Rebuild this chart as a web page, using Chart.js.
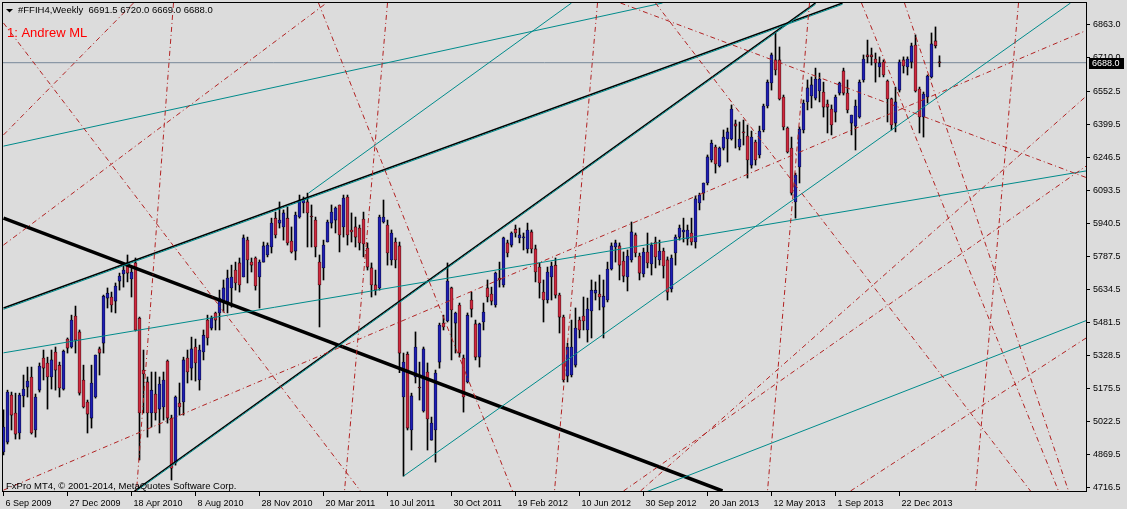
<!DOCTYPE html>
<html>
<head>
<meta charset="utf-8">
<script src="https://cdn.jsdelivr.net/npm/chart.js@4.4.1/dist/chart.umd.min.js"></script>
<style>
html, body { margin: 0; padding: 0; background: #dcdcdc; }
#myChart { display: block; }
</style>
</head>
<body>
<canvas id="myChart" width="1127" height="509"></canvas>
<script>
// weekly candles, #FFIH4 (one entry per week, first week = 6 Sep 2009)
let opens = [4882, 4928, 5146, 5063, 4970, 5142, 5183, 5230, 4984, 5169,
             5318, 5295, 5230, 5346, 5285, 5174, 5406, 5369, 5513, 5439,
             5216, 5114, 5039, 5137, 5360, 5387, 5596, 5601, 5582, 5675,
             5708, 5759, 5685, 5759, 5503, 5262, 5207, 5063, 5151, 5081,
             5091, 5304, 5039, 4831, 5109, 5114, 5318, 5271, 5369, 5216,
             5346, 5494, 5457, 5527, 5527, 5578, 5578, 5643, 5726, 5759,
             5694, 5865, 5763, 5782, 5694, 5763, 5796, 5833, 5967, 5944,
             5926, 5967, 5861, 5814, 5972, 6037, 6042, 5977, 5958, 5763,
             5736, 5856, 5944, 5958, 6028, 5926, 6065, 5912, 5926, 5921,
             5963, 5828, 5736, 5657, 5643, 5949, 5935, 5773, 5856, 5838,
             5137, 5336, 4984, 5230, 5183, 5072, 5253, 4937, 4984, 5299,
             5480, 5490, 5643, 5480, 5564, 5318, 5207, 5587, 5476, 5322,
             5485, 5643, 5615, 5564, 5689, 5657, 5852, 5842, 5916, 5875,
             5875, 5824, 5903, 5824, 5740, 5624, 5587, 5694, 5749, 5610,
             5508, 5234, 5239, 5285, 5494, 5513, 5448, 5536, 5619, 5615,
             5554, 5587, 5731, 5833, 5838, 5768, 5694, 5773, 5889, 5791,
             5708, 5810, 5754, 5856, 5773, 5814, 5773, 5638, 5805, 5879,
             5903, 5870, 5898, 5856, 6037, 6083, 6130, 6237, 6297, 6209,
             6292, 6334, 6334, 6404, 6297, 6367, 6348, 6213, 6320, 6260,
             6376, 6487, 6594, 6701, 6701, 6529, 6385, 6292, 6042, 6204,
             6376, 6506, 6534, 6524, 6557, 6552, 6496, 6473, 6459, 6547,
             6650, 6547, 6408, 6394, 6436, 6608, 6724, 6724, 6705, 6668,
             6691, 6603, 6520, 6408, 6561, 6701, 6668, 6691, 6770, 6566,
             6436, 6529, 6622, 6789, 6691.5];

let highs = [5077, 5169, 5160, 5155, 5155, 5239, 5276, 5276, 5151, 5295,
             5355, 5322, 5355, 5369, 5299, 5355, 5411, 5517, 5559, 5448,
             5285, 5123, 5285, 5332, 5369, 5610, 5643, 5624, 5666, 5712,
             5759, 5796, 5740, 5782, 5508, 5355, 5230, 5253, 5253, 5230,
             5253, 5309, 5053, 5142, 5202, 5322, 5355, 5415, 5406, 5378,
             5448, 5517, 5513, 5531, 5633, 5680, 5726, 5749, 5763, 5782,
             5889, 5879, 5782, 5787, 5773, 5856, 5852, 5967, 5995, 6042,
             6005, 6019, 5926, 5995, 6074, 6065, 6083, 6028, 5972, 5796,
             5865, 5958, 6028, 6019, 6028, 6074, 6074, 5991, 5972, 5935,
             5995, 5852, 5759, 5726, 5981, 6051, 5958, 5912, 5875, 5856,
             5341, 5346, 5155, 5439, 5299, 5369, 5295, 5044, 5262, 5480,
             5517, 5759, 5647, 5531, 5573, 5332, 5527, 5624, 5494, 5480,
             5573, 5680, 5647, 5717, 5763, 5879, 5865, 5903, 5935, 5921,
             5898, 5944, 5912, 5842, 5759, 5680, 5740, 5763, 5782, 5619,
             5517, 5387, 5494, 5550, 5508, 5601, 5596, 5680, 5671, 5703,
             5680, 5763, 5852, 5865, 5852, 5810, 5819, 5949, 5898, 5805,
             5828, 5898, 5852, 5879, 5865, 5828, 5787, 5796, 5889, 5935,
             5967, 5935, 5967, 6070, 6083, 6130, 6260, 6329, 6306, 6297,
             6376, 6385, 6492, 6422, 6413, 6422, 6399, 6371, 6329, 6394,
             6496, 6608, 6733, 6826, 6761, 6538, 6390, 6343, 6176, 6390,
             6515, 6608, 6622, 6663, 6640, 6598, 6515, 6492, 6538, 6598,
             6663, 6608, 6445, 6515, 6608, 6724, 6793, 6756, 6733, 6715,
             6701, 6608, 6524, 6575, 6701, 6715, 6715, 6779, 6817, 6575,
             6552, 6631, 6826, 6854, 6720];

let lows = [4868, 4919, 4984, 4942, 4942, 5091, 5137, 4965, 4951, 5160,
            5216, 5081, 5174, 5169, 5137, 5169, 5341, 5364, 5341, 5146,
            5086, 4970, 4993, 5132, 5239, 5341, 5550, 5531, 5527, 5633,
            5647, 5671, 5601, 5443, 4845, 5063, 4951, 4998, 5030, 4970,
            5030, 5016, 4752, 4821, 5053, 5053, 5202, 5216, 5211, 5169,
            5309, 5378, 5448, 5448, 5448, 5531, 5527, 5554, 5633, 5624,
            5694, 5666, 5717, 5633, 5550, 5763, 5787, 5805, 5875, 5921,
            5865, 5842, 5805, 5773, 5967, 5991, 5833, 5833, 5787, 5462,
            5680, 5856, 5921, 5898, 5810, 5879, 5842, 5856, 5833, 5819,
            5787, 5726, 5601, 5610, 5633, 5944, 5749, 5749, 5736, 5250,
            4770, 4984, 4891, 5202, 5123, 5067, 4891, 4937, 4835, 5271,
            5448, 5485, 5309, 5341, 5322, 5067, 5202, 5508, 5309, 5276,
            5448, 5578, 5564, 5554, 5647, 5647, 5787, 5833, 5879, 5852,
            5819, 5805, 5805, 5671, 5596, 5485, 5573, 5587, 5596, 5434,
            5207, 5207, 5230, 5276, 5411, 5448, 5392, 5411, 5587, 5541,
            5411, 5578, 5726, 5763, 5680, 5671, 5629, 5763, 5787, 5680,
            5694, 5736, 5703, 5736, 5749, 5689, 5587, 5624, 5749, 5865,
            5856, 5842, 5842, 5828, 6005, 6051, 6121, 6227, 6176, 6204,
            6283, 6227, 6329, 6292, 6283, 6306, 6153, 6199, 6213, 6246,
            6367, 6478, 6561, 6631, 6515, 6376, 6269, 6074, 5967, 6130,
            6362, 6469, 6478, 6515, 6506, 6436, 6362, 6353, 6413, 6538,
            6538, 6455, 6353, 6283, 6431, 6598, 6687, 6677, 6598, 6622,
            6622, 6413, 6376, 6367, 6552, 6640, 6631, 6663, 6552, 6362,
            6343, 6501, 6617, 6756, 6669];

let closes = [4998, 5160, 5053, 4965, 5146, 5174, 5211, 4970, 5137, 5281,
              5271, 5230, 5309, 5262, 5179, 5350, 5364, 5494, 5401, 5155,
              5091, 5058, 5202, 5332, 5341, 5605, 5619, 5564, 5652, 5698,
              5726, 5712, 5717, 5448, 5063, 5244, 5063, 5169, 5063, 5197,
              5216, 5039, 4807, 5137, 5091, 5309, 5253, 5360, 5295, 5355,
              5424, 5411, 5503, 5494, 5596, 5643, 5689, 5694, 5666, 5657,
              5875, 5773, 5749, 5652, 5763, 5838, 5842, 5944, 5889, 5958,
              5991, 5852, 5810, 5981, 6051, 6051, 5991, 5972, 5833, 5657,
              5842, 5949, 5995, 6014, 5889, 6060, 5889, 5903, 5879, 5852,
              5847, 5740, 5657, 5633, 5972, 5972, 5805, 5898, 5773, 5341,
              5299, 4993, 5142, 5369, 5179, 5360, 5035, 5016, 5248, 5471,
              5462, 5675, 5541, 5527, 5341, 5137, 5517, 5545, 5322, 5476,
              5531, 5601, 5582, 5712, 5680, 5875, 5805, 5898, 5898, 5889,
              5879, 5912, 5824, 5717, 5666, 5587, 5717, 5745, 5610, 5508,
              5216, 5369, 5369, 5457, 5448, 5490, 5545, 5633, 5633, 5601,
              5605, 5731, 5838, 5852, 5749, 5698, 5791, 5903, 5805, 5712,
              5810, 5759, 5842, 5787, 5814, 5745, 5624, 5782, 5879, 5921,
              5912, 5912, 5856, 6056, 6074, 6130, 6251, 6315, 6218, 6292,
              6343, 6367, 6473, 6394, 6334, 6362, 6237, 6343, 6237, 6371,
              6487, 6598, 6724, 6654, 6520, 6390, 6274, 6083, 6167, 6380,
              6501, 6571, 6585, 6612, 6612, 6482, 6482, 6399, 6529, 6594,
              6547, 6469, 6445, 6487, 6598, 6705, 6715, 6715, 6687, 6687,
              6631, 6520, 6399, 6506, 6691, 6673, 6705, 6766, 6557, 6436,
              6543, 6626, 6775, 6766, 6688];

// time axis: week number of each label
let tickWeeks = [0, 16, 32, 48, 64, 80, 96, 112, 128, 144, 160, 176, 192, 208, 224];
let tickLabels = ['6 Sep 2009', '27 Dec 2009', '18 Apr 2010', '8 Aug 2010', '28 Nov 2010',
                  '20 Mar 2011', '10 Jul 2011', '30 Oct 2011', '19 Feb 2012', '10 Jun 2012',
                  '30 Sep 2012', '20 Jan 2013', '12 May 2013', '1 Sep 2013', '22 Dec 2013'];
let priceTicks = [4716.5, 4869.5, 5022.5, 5175.5, 5328.5, 5481.5, 5634.5, 5787.5,
                  5940.5, 6093.5, 6246.5, 6399.5, 6552.5, 6710.0, 6863.0];

// drawn objects: [week1, price1, week2, price2]
let thickLines = [[0, 5967, 179.75, 4701]];
let blackLines = [[0, 5550, 209.75, 6965],
                  [32.75, 4701, 203, 6965]];
let tealLines = [[0, 5544, 209.75, 6959],
                 [32.75, 4695, 203, 6959],
                 [0, 6301, 164.75, 6965],
                 [76.25, 6083, 142, 6965],
                 [0, 5342, 271, 6187],
                 [100, 4770, 266.75, 6965],
                 [160, 4692, 271, 5494]];
let redLines = [[0, 6353, 32.5, 6965],
                [0, 6872, 89.25, 4701],
                [42.5, 6965, 33.25, 4701],
                [0, 5842, 80.75, 6965],
                [96, 6965, 85.25, 4701],
                [78.75, 6965, 127.25, 4701],
                [148.5, 6965, 137.75, 4701],
                [201.5, 6965, 191, 4701],
                [253.75, 6965, 243, 4701],
                [214.5, 6965, 263.75, 4701],
                [225.25, 6965, 266.25, 4701],
                [0, 4705, 271, 6840],
                [159.25, 4701, 271, 6538],
                [211.75, 4701, 271, 5415],
                [154.25, 6965, 271, 6153],
                [155, 4701, 271, 6213],
                [163, 6965, 256.75, 4701]];

let symbol = '#FFIH4,Weekly';
let indicatorName = '1: Andrew ML';
let copyright = 'FxPro MT4, \u00a9 2001-2014, MetaQuotes Software Corp.';

const bg = '#dcdcdc';
const bullColor = '#1e1eb4';
const bearColor = '#d0283e';
const fontFamily = "'Liberation Sans', Arial, sans-serif";

let weeks = opens.map((e, i) => i);
let last = closes.length - 1;

function segment(seg, color, width, dash) {
    return {
        type: 'line',
        data: [{x: seg[0], y: seg[1]}, {x: seg[2], y: seg[3]}],
        borderColor: color,
        borderWidth: width,
        borderDash: dash,
        pointRadius: 0,
        fill: false,
        order: 0
    };
}

let datasets = [];
redLines.forEach(s => datasets.push(segment(s, '#b22222', 1, [5, 3, 1, 3])));
tealLines.forEach(s => datasets.push(segment(s, '#008b8b', 1, [])));
blackLines.forEach(s => datasets.push(segment(s, '#000000', 1.5, [])));
thickLines.forEach(s => datasets.push(segment(s, '#000000', 3.5, [])));

datasets.push({
    data: weeks.map(i => ({x: i, y: [opens[i], closes[i]]})),
    backgroundColor: ctx => closes[ctx.dataIndex] >= opens[ctx.dataIndex] ? bullColor : bearColor,
    borderColor: '#000000',
    borderWidth: 0.6,
    borderSkipped: false,
    barThickness: 3,
    minBarLength: 1,
    grouped: false,
    order: 1
});
datasets.push({
    data: weeks.map(i => ({x: i, y: [lows[i], highs[i]]})),
    backgroundColor: '#000000',
    borderWidth: 0,
    barThickness: 1,
    grouped: false,
    order: 2
});
datasets.push({
    type: 'line',
    data: [{x: -1, y: closes[last]}, {x: 272, y: closes[last]}],
    borderColor: '#778899',
    borderWidth: 1,
    pointRadius: 0,
    order: 3
});

const decor = {
    id: 'decor',
    beforeDraw(chart) {
        const ctx = chart.ctx;
        ctx.save();
        ctx.fillStyle = bg;
        ctx.fillRect(0, 0, chart.width, chart.height);
        ctx.restore();
    },
    afterDraw(chart) {
        const ctx = chart.ctx;
        const a = chart.chartArea;
        ctx.save();
        // frame
        ctx.strokeStyle = '#000';
        ctx.lineWidth = 1;
        ctx.strokeRect(a.left - 0.5, a.top - 0.5, a.right - a.left + 1, a.bottom - a.top + 1);

        // header
        ctx.fillStyle = '#000';
        ctx.beginPath();
        ctx.moveTo(6, 9);
        ctx.lineTo(13, 9);
        ctx.lineTo(9.5, 12.5);
        ctx.closePath();
        ctx.fill();
        ctx.font = '9.5px ' + fontFamily;
        ctx.textBaseline = 'alphabetic';
        let ohlc = [opens[last], highs[last], lows[last], closes[last]].map(v => v.toFixed(1)).join(' ');
        ctx.fillText(symbol + '  ' + ohlc, 18, 13);

        ctx.fillStyle = '#ff0000';
        ctx.font = '13px ' + fontFamily;
        ctx.fillText(indicatorName, 7, 36.5);

        ctx.fillStyle = '#000';
        ctx.font = '9.5px ' + fontFamily;
        ctx.fillText(copyright, 6, 488.5);

        // current price box
        let y = Math.round(chart.scales.y.getPixelForValue(closes[last]));
        ctx.fillStyle = '#000';
        ctx.fillRect(a.right + 3, y - 5, 35, 11);
        ctx.fillStyle = '#fff';
        ctx.font = '9px ' + fontFamily;
        ctx.textBaseline = 'middle';
        ctx.fillText(closes[last].toFixed(1), a.right + 6, y + 0.5);
        ctx.restore();
    }
};

new Chart(document.getElementById('myChart'), {
    type: 'bar',
    data: { datasets: datasets },
    options: {
        responsive: false,
        devicePixelRatio: 1,
        animation: false,
        events: [],
        layout: { padding: { left: 3, top: 3, right: 0, bottom: 0 } },
        plugins: {
            legend: { display: false },
            tooltip: { enabled: false }
        },
        scales: {
            x: {
                type: 'linear',
                min: -0.125,
                max: 270.625,
                offset: false,
                afterBuildTicks: s => { s.ticks = tickWeeks.map(v => ({value: v})); },
                afterFit: s => { s.height = 18; s.paddingLeft = 0; s.paddingRight = 0; },
                grid: { drawOnChartArea: false, drawTicks: true, tickLength: 5, color: '#000', offset: false },
                border: { display: false },
                ticks: {
                    autoSkip: false,
                    maxRotation: 0,
                    minRotation: 0,
                    align: 'start',
                    labelOffset: 2,
                    padding: 2,
                    color: '#000',
                    font: { family: fontFamily, size: 9 },
                    callback: (v, i) => tickLabels[i]
                }
            },
            y: {
                type: 'linear',
                position: 'right',
                min: 4701,
                max: 6965,
                afterBuildTicks: s => { s.ticks = priceTicks.map(v => ({value: v})); },
                afterFit: s => { s.width = 41; s.paddingTop = 0; s.paddingBottom = 0; },
                grid: { drawOnChartArea: false, drawTicks: true, tickLength: 4, color: '#000' },
                border: { display: false },
                ticks: {
                    padding: 3,
                    color: '#000',
                    font: { family: fontFamily, size: 9 },
                    callback: v => v.toFixed(1)
                }
            }
        }
    },
    plugins: [decor]
});
</script>
</body>
</html>
